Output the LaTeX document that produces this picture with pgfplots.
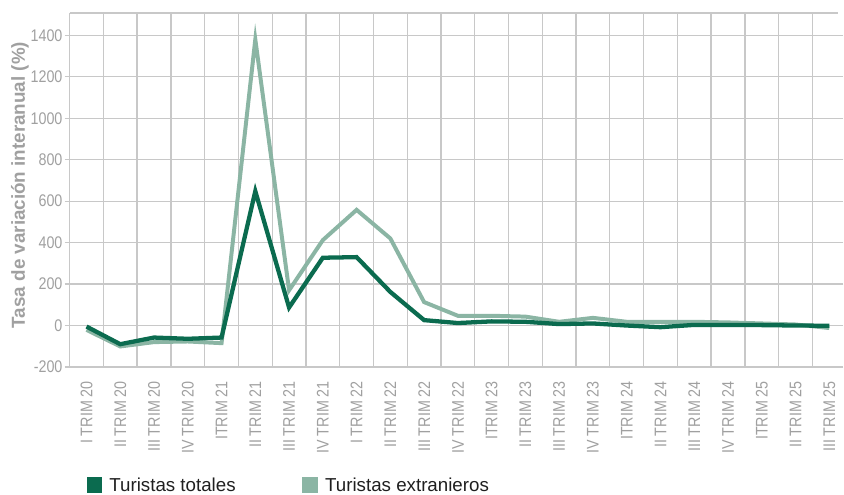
\documentclass[border=0pt]{standalone}
\usepackage{fontspec}
\setmainfont{Liberation Sans}
\newfontfamily\tickfont[FakeStretch=0.85]{Liberation Sans}
\usepackage{pgfplots}
\pgfplotsset{compat=1.18}
\definecolor{dkgreen}{HTML}{0B6B4F}
\definecolor{ltgreen}{HTML}{8BB5A4}
\definecolor{gridgray}{HTML}{C8C8C8}
\definecolor{txtgray}{HTML}{A0A0A0}
\begin{document}
\begin{tikzpicture}
\path (0,0) rectangle (844bp,-497bp);
\begin{axis}[
  at={(70bp,-369bp)}, anchor=south west,
  scale only axis, width=773bp, height=356bp,
  xmin=-0.5, xmax=22.27, ymin=-200, ymax=1508,
  axis line style={draw=none},
  xtick={0,...,22},
  xticklabels={I TRIM 20,II TRIM 20,III TRIM 20,IV TRIM 20,ITRIM 21,II TRIM 21,III TRIM 21,IV TRIM 21,I TRIM 22,II TRIM 22,III TRIM 22,IV TRIM 22,ITRIM 23,II TRIM 23,III TRIM 23,IV TRIM 23,ITRIM 24,II TRIM 24,III TRIM 24,IV TRIM 24,ITRIM 25,II TRIM 25,III TRIM 25},
  minor xtick={-0.5,0.5,...,21.5},
  xmajorgrids=false, xminorgrids=true,
  x tick style={draw=none}, minor tick length=0pt,
  ytick={-200,0,200,400,600,800,1000,1200,1400},
  yticklabels={-200,0,200,400,600,800,1000,1200,1400},
  ymajorgrids=true,
  extra y ticks={1508}, extra y tick labels={},
  extra y tick style={grid=major, major tick length=0pt},
  grid style={gridgray, line width=1.3bp},
  minor grid style={gridgray, line width=1.3bp},
  y tick style={gridgray, line width=1.3bp},
  tick align=outside, major tick length=5bp,
  xticklabel style={rotate=90, anchor=east, inner sep=0pt, font=\tickfont\fontsize{17}{17}\selectfont, text=txtgray},
  xticklabel shift=9bp,
  yticklabel style={inner sep=0pt, font=\tickfont\fontsize{17}{17}\selectfont, text=txtgray},
  yticklabel shift=2bp,
  ylabel={Tasa de variación interanual (\%)},
  ylabel style={at={(axis description cs:-0.0647,0.514)}, anchor=center, font=\bfseries\fontsize{19}{19}\selectfont, text=txtgray},
  legend columns=2,
  legend style={draw=none, fill=none, inner sep=0pt, outer sep=0pt,
    at={(axis description cs:0.022,-0.312)}, anchor=north west,
    font=\fontsize{18.9}{19}\selectfont, text=black!88,
    nodes={inner sep=0pt},
    /tikz/every odd column/.append style={column sep=7bp},
    /tikz/every even column/.append style={column sep=67bp}},
  legend image code/.code={\fill[#1, draw=none] (0bp,-8bp) rectangle (16bp,8bp);},
]
\addlegendimage{dkgreen, fill=dkgreen}
\addlegendentry{Turistas totales}
\addlegendimage{ltgreen, fill=ltgreen}
\addlegendentry{Turistas extranieros}
\addplot[ltgreen, line width=4bp, forget plot] coordinates {
(0,-21) (1,-101) (2,-80) (3,-77) (4,-85) (5,1380) (6,170) (7,412) (8,558) (9,420) (10,113) (11,47) (12,47) (13,43) (14,18) (15,37) (16,18) (17,18) (18,18) (19,15) (20,10) (21,5) (22,-12)};
\addplot[dkgreen, line width=4.3bp, forget plot] coordinates {
(0,-5) (1,-90) (2,-58) (3,-64) (4,-58) (5,648) (6,87) (7,327) (8,330) (9,162) (10,26) (11,12) (12,20) (13,18) (14,7) (15,10) (16,0) (17,-8) (18,3) (19,3) (20,2) (21,0) (22,-1)};
\end{axis}
\end{tikzpicture}
\end{document}
